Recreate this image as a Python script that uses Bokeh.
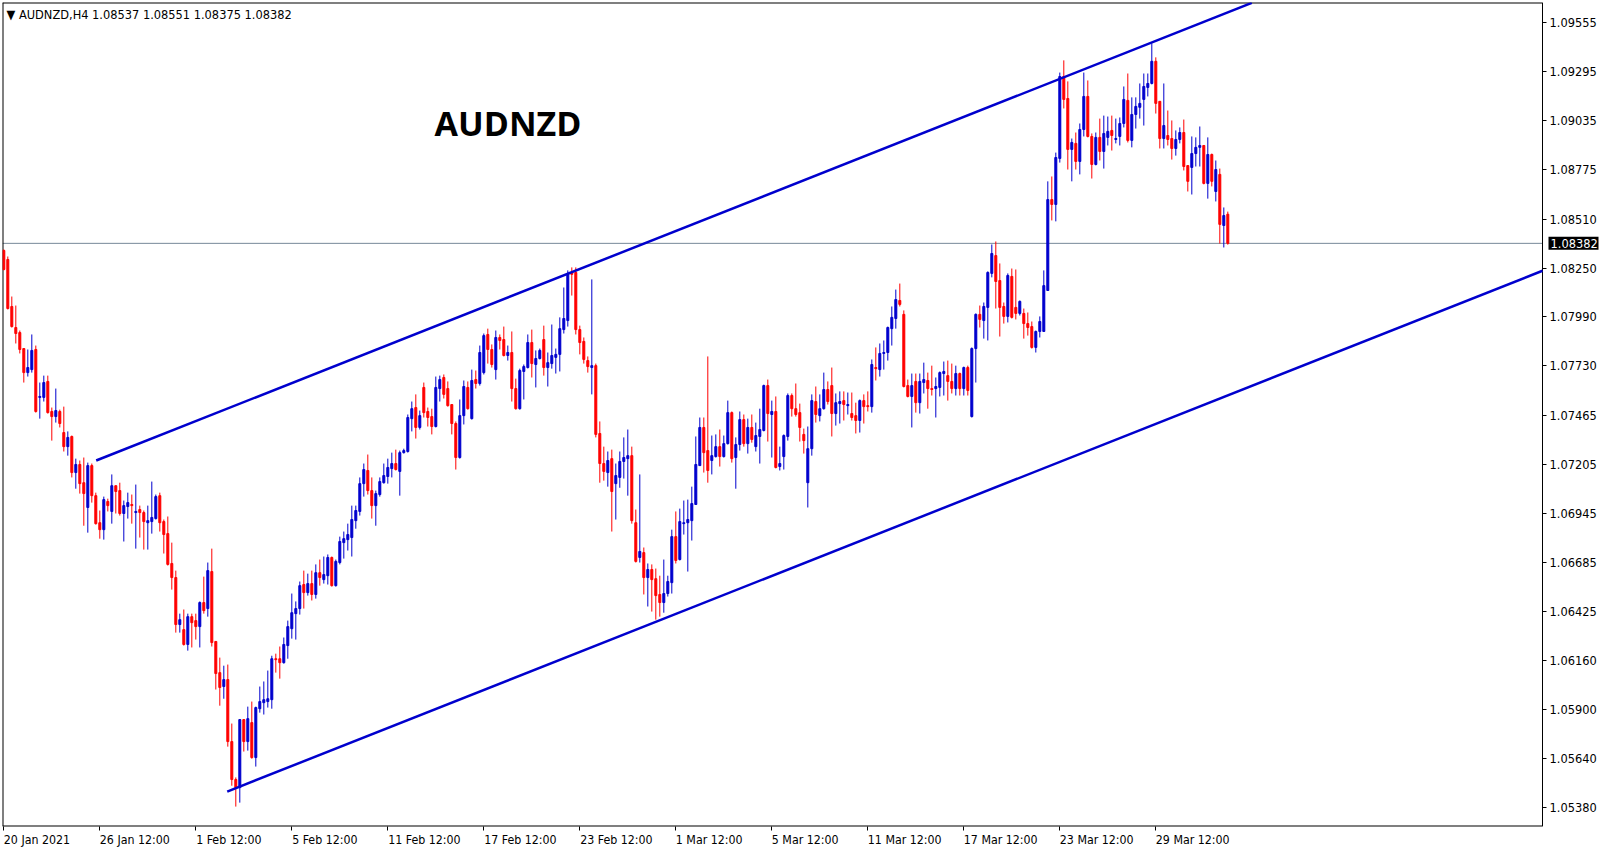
from bokeh.plotting import figure
from bokeh.models import (ColumnDataSource, FixedTicker, PrintfTickFormatter,
                          Label, Range1d, LinearAxis)
from bokeh.embed import file_html
from bokeh.resources import INLINE

symbol = "AUDNZD"
timeframe = "H4"

opens = [1.08344, 1.08296, 1.08046, 1.07934, 1.07907, 1.07822, 1.07694, 1.07710, 1.07817, 1.07562,
         1.07562, 1.07647, 1.07487, 1.07460, 1.07487, 1.07375, 1.07300, 1.07354, 1.07162, 1.07205,
         1.07108, 1.06976, 1.07199, 1.07039, 1.06895, 1.06858, 1.07008, 1.06955, 1.07092, 1.07066,
         1.06944, 1.06981, 1.06992, 1.06949, 1.06965, 1.06949, 1.06895, 1.06901, 1.06917, 1.07039,
         1.06901, 1.06837, 1.06678, 1.06603, 1.06353, 1.06326, 1.06247, 1.06395, 1.06374, 1.06342,
         1.06470, 1.06438, 1.06635, 1.06263, 1.06097, 1.06023, 1.06060, 1.05730, 1.05528, 1.05485,
         1.05847, 1.05730, 1.05831, 1.05645, 1.05905, 1.05937, 1.05943, 1.05953, 1.06171, 1.06171,
         1.06150, 1.06241, 1.06331, 1.06411, 1.06438, 1.06566, 1.06523, 1.06571, 1.06513, 1.06629,
         1.06592, 1.06613, 1.06710, 1.06560, 1.06683, 1.06789, 1.06805, 1.06816, 1.06906, 1.06955,
         1.07103, 1.07173, 1.07066, 1.06986, 1.07045, 1.07108, 1.07141, 1.07183, 1.07210, 1.07168,
         1.07268, 1.07274, 1.07449, 1.07508, 1.07402, 1.07615, 1.07487, 1.07460, 1.07407, 1.07609,
         1.07668, 1.07609, 1.07524, 1.07423, 1.07242, 1.07465, 1.07615, 1.07449, 1.07657, 1.07636,
         1.07694, 1.07897, 1.07817, 1.07710, 1.07881, 1.07870, 1.07785, 1.07801, 1.07609, 1.07502,
         1.07700, 1.07721, 1.07854, 1.07737, 1.07769, 1.07870, 1.07721, 1.07742, 1.07775, 1.07791,
         1.07923, 1.07971, 1.08227, 1.08227, 1.07923, 1.07860, 1.07758, 1.07721, 1.07731, 1.07370,
         1.07210, 1.07162, 1.07236, 1.07103, 1.07136, 1.07221, 1.07236, 1.07252, 1.06895, 1.06710,
         1.06736, 1.06603, 1.06646, 1.06597, 1.06513, 1.06470, 1.06518, 1.06576, 1.06821, 1.06699,
         1.06890, 1.06895, 1.06906, 1.06992, 1.07199, 1.07402, 1.07279, 1.07226, 1.07247, 1.07300,
         1.07247, 1.07316, 1.07481, 1.07242, 1.07311, 1.07444, 1.07316, 1.07402, 1.07300, 1.07354,
         1.07386, 1.07625, 1.07471, 1.07487, 1.07194, 1.07247, 1.07354, 1.07572, 1.07502, 1.07481,
         1.07365, 1.07108, 1.07289, 1.07540, 1.07465, 1.07502, 1.07604, 1.07625, 1.07476, 1.07529,
         1.07545, 1.07518, 1.07476, 1.07465, 1.07439, 1.07545, 1.07518, 1.07513, 1.07721, 1.07710,
         1.07796, 1.07801, 1.07928, 1.07982, 1.08078, 1.08004, 1.07625, 1.07567, 1.07647, 1.07534,
         1.07641, 1.07652, 1.07609, 1.07609, 1.07615, 1.07689, 1.07678, 1.07647, 1.07609, 1.07689,
         1.07609, 1.07721, 1.07460, 1.07822, 1.08004, 1.07971, 1.08041, 1.08222, 1.08317, 1.08184,
         1.08046, 1.07993, 1.08206, 1.08041, 1.08009, 1.08009, 1.07955, 1.07939, 1.07828, 1.07913,
         1.07913, 1.08131, 1.08615, 1.08589, 1.08834, 1.09270, 1.09153, 1.08882, 1.08914, 1.08818,
         1.08988, 1.09164, 1.08951, 1.08802, 1.08946, 1.08871, 1.08946, 1.08983, 1.08935, 1.08951,
         1.09020, 1.09143, 1.08930, 1.09068, 1.09106, 1.09148, 1.09212, 1.09233, 1.09351, 1.09138,
         1.08940, 1.08956, 1.08940, 1.08887, 1.08935, 1.08972, 1.08796, 1.08786, 1.08860, 1.08893,
         1.08903, 1.08701, 1.08855, 1.08658, 1.08749, 1.08477, 1.08537]

highs = [1.08350, 1.08312, 1.08099, 1.08051, 1.07918, 1.07822, 1.07817, 1.07897, 1.07838, 1.07641,
         1.07678, 1.07678, 1.07508, 1.07609, 1.07497, 1.07513, 1.07381, 1.07359, 1.07236, 1.07226,
         1.07242, 1.07215, 1.07210, 1.07055, 1.06960, 1.07034, 1.07023, 1.07152, 1.07092, 1.07108,
         1.07013, 1.07055, 1.07045, 1.07098, 1.06986, 1.06960, 1.06986, 1.07114, 1.07045, 1.07055,
         1.06912, 1.06928, 1.06789, 1.06640, 1.06411, 1.06433, 1.06411, 1.06411, 1.06411, 1.06476,
         1.06608, 1.06683, 1.06757, 1.06263, 1.06177, 1.06134, 1.06140, 1.05826, 1.05539, 1.05850,
         1.05850, 1.05916, 1.05943, 1.05916, 1.06023, 1.06050, 1.06108, 1.06187, 1.06198, 1.06236,
         1.06284, 1.06374, 1.06518, 1.06476, 1.06582, 1.06640, 1.06624, 1.06640, 1.06673, 1.06699,
         1.06715, 1.06726, 1.06715, 1.06699, 1.06821, 1.06848, 1.06890, 1.06986, 1.06986, 1.07136,
         1.07210, 1.07258, 1.07136, 1.07066, 1.07136, 1.07210, 1.07236, 1.07268, 1.07284, 1.07279,
         1.07289, 1.07471, 1.07540, 1.07578, 1.07492, 1.07641, 1.07508, 1.07502, 1.07673, 1.07678,
         1.07684, 1.07647, 1.07524, 1.07434, 1.07551, 1.07652, 1.07647, 1.07710, 1.07705, 1.07838,
         1.07902, 1.07928, 1.07844, 1.07918, 1.07897, 1.07939, 1.07838, 1.07913, 1.07662, 1.07715,
         1.07737, 1.07897, 1.07923, 1.07812, 1.07822, 1.07944, 1.07801, 1.07950, 1.07822, 1.07988,
         1.08147, 1.08238, 1.08254, 1.08254, 1.07944, 1.07881, 1.07780, 1.08190, 1.07742, 1.07434,
         1.07300, 1.07274, 1.07284, 1.07210, 1.07274, 1.07349, 1.07391, 1.07300, 1.06965, 1.07152,
         1.06763, 1.06678, 1.06673, 1.06651, 1.06613, 1.06699, 1.06613, 1.06858, 1.06955, 1.06970,
         1.07013, 1.07018, 1.07087, 1.07354, 1.07455, 1.07455, 1.07780, 1.07359, 1.07365, 1.07391,
         1.07359, 1.07545, 1.07487, 1.07349, 1.07487, 1.07471, 1.07449, 1.07471, 1.07428, 1.07502,
         1.07630, 1.07657, 1.07545, 1.07567, 1.07300, 1.07365, 1.07583, 1.07583, 1.07636, 1.07529,
         1.07396, 1.07407, 1.07578, 1.07620, 1.07578, 1.07694, 1.07647, 1.07721, 1.07583, 1.07594,
         1.07594, 1.07588, 1.07588, 1.07534, 1.07551, 1.07578, 1.07594, 1.07764, 1.07828, 1.07849,
         1.07865, 1.07939, 1.08046, 1.08136, 1.08168, 1.08025, 1.07657, 1.07689, 1.07689, 1.07689,
         1.07747, 1.07694, 1.07731, 1.07668, 1.07700, 1.07753, 1.07758, 1.07742, 1.07731, 1.07694,
         1.07726, 1.07731, 1.07828, 1.08009, 1.08051, 1.08067, 1.08233, 1.08376, 1.08392, 1.08275,
         1.08067, 1.08222, 1.08248, 1.08243, 1.08078, 1.08035, 1.08014, 1.07966, 1.07918, 1.07993,
         1.08238, 1.08712, 1.08738, 1.08865, 1.09291, 1.09356, 1.09244, 1.08940, 1.08972, 1.09020,
         1.09291, 1.09249, 1.08967, 1.08972, 1.09046, 1.09062, 1.09057, 1.09062, 1.09046, 1.09052,
         1.09217, 1.09286, 1.09159, 1.09159, 1.09233, 1.09286, 1.09286, 1.09446, 1.09372, 1.09138,
         1.09233, 1.09089, 1.09036, 1.08983, 1.08999, 1.09041, 1.08796, 1.08951, 1.08946, 1.09004,
         1.08903, 1.08946, 1.08860, 1.08823, 1.08780, 1.08573, 1.08551]

lows = [1.08238, 1.08030, 1.07934, 1.07849, 1.07796, 1.07641, 1.07673, 1.07694, 1.07481, 1.07449,
        1.07540, 1.07476, 1.07332, 1.07428, 1.07402, 1.07274, 1.07252, 1.07136, 1.07076, 1.07050,
        1.06879, 1.06842, 1.07002, 1.06885, 1.06810, 1.06805, 1.06955, 1.06890, 1.06944, 1.06933,
        1.06795, 1.06917, 1.06890, 1.06757, 1.06816, 1.06752, 1.06752, 1.06837, 1.06912, 1.06848,
        1.06731, 1.06667, 1.06539, 1.06310, 1.06310, 1.06241, 1.06214, 1.06231, 1.06273, 1.06231,
        1.06411, 1.06395, 1.06236, 1.06007, 1.05921, 1.05958, 1.05703, 1.05495, 1.05384, 1.05405,
        1.05677, 1.05682, 1.05639, 1.05597, 1.05884, 1.05874, 1.05911, 1.05905, 1.06097, 1.06065,
        1.06145, 1.06171, 1.06278, 1.06273, 1.06406, 1.06438, 1.06507, 1.06481, 1.06491, 1.06560,
        1.06571, 1.06566, 1.06555, 1.06555, 1.06673, 1.06704, 1.06747, 1.06715, 1.06863, 1.06933,
        1.07034, 1.07045, 1.06917, 1.06879, 1.07034, 1.07103, 1.07103, 1.07136, 1.07173, 1.07039,
        1.07263, 1.07268, 1.07381, 1.07343, 1.07391, 1.07455, 1.07407, 1.07365, 1.07402, 1.07540,
        1.07556, 1.07513, 1.07365, 1.07178, 1.07236, 1.07418, 1.07497, 1.07444, 1.07609, 1.07625,
        1.07684, 1.07742, 1.07721, 1.07657, 1.07817, 1.07780, 1.07758, 1.07540, 1.07497, 1.07497,
        1.07551, 1.07716, 1.07668, 1.07615, 1.07764, 1.07678, 1.07620, 1.07715, 1.07689, 1.07700,
        1.07902, 1.07939, 1.08104, 1.07897, 1.07791, 1.07742, 1.07694, 1.07578, 1.07349, 1.07108,
        1.07119, 1.07087, 1.06848, 1.06912, 1.07081, 1.07130, 1.07039, 1.06890, 1.06683, 1.06683,
        1.06513, 1.06449, 1.06422, 1.06379, 1.06395, 1.06416, 1.06502, 1.06518, 1.06678, 1.06694,
        1.06832, 1.06635, 1.06800, 1.06992, 1.07199, 1.07162, 1.07108, 1.07152, 1.07242, 1.07194,
        1.07242, 1.07311, 1.07215, 1.07076, 1.07279, 1.07300, 1.07263, 1.07321, 1.07274, 1.07210,
        1.07381, 1.07327, 1.07242, 1.07184, 1.07173, 1.07178, 1.07332, 1.07460, 1.07460, 1.07327,
        1.07263, 1.06976, 1.07252, 1.07428, 1.07434, 1.07497, 1.07524, 1.07354, 1.07412, 1.07423,
        1.07439, 1.07471, 1.07439, 1.07370, 1.07375, 1.07423, 1.07487, 1.07481, 1.07652, 1.07673,
        1.07710, 1.07758, 1.07838, 1.07928, 1.08046, 1.07615, 1.07562, 1.07402, 1.07481, 1.07476,
        1.07583, 1.07502, 1.07572, 1.07455, 1.07567, 1.07572, 1.07545, 1.07583, 1.07572, 1.07572,
        1.07572, 1.07572, 1.07455, 1.07641, 1.07934, 1.07875, 1.07865, 1.08201, 1.08035, 1.07886,
        1.07955, 1.07961, 1.07982, 1.07977, 1.07998, 1.07875, 1.07891, 1.07822, 1.07801, 1.07881,
        1.07913, 1.08131, 1.08504, 1.08499, 1.08812, 1.09100, 1.08775, 1.08712, 1.08775, 1.08749,
        1.08951, 1.08946, 1.08727, 1.08797, 1.08823, 1.08780, 1.08903, 1.08876, 1.08914, 1.08903,
        1.08999, 1.08919, 1.08893, 1.08993, 1.09046, 1.09009, 1.09164, 1.09228, 1.09073, 1.08887,
        1.08887, 1.08903, 1.08828, 1.08849, 1.08914, 1.08770, 1.08658, 1.08642, 1.08791, 1.08791,
        1.08696, 1.08620, 1.08685, 1.08605, 1.08381, 1.08360, 1.08375]

closes = [1.08243, 1.08035, 1.07939, 1.07902, 1.07817, 1.07694, 1.07721, 1.07812, 1.07487, 1.07567,
          1.07641, 1.07481, 1.07460, 1.07492, 1.07423, 1.07300, 1.07349, 1.07162, 1.07205, 1.07103,
          1.07050, 1.07199, 1.07039, 1.06890, 1.06858, 1.07018, 1.06986, 1.07092, 1.07061, 1.06944,
          1.06986, 1.07002, 1.06986, 1.06955, 1.06949, 1.06901, 1.06906, 1.06923, 1.07034, 1.06895,
          1.06832, 1.06673, 1.06603, 1.06353, 1.06379, 1.06247, 1.06395, 1.06363, 1.06342, 1.06470,
          1.06427, 1.06640, 1.06257, 1.06092, 1.06018, 1.06060, 1.05730, 1.05528, 1.05485, 1.05847,
          1.05730, 1.05852, 1.05645, 1.05911, 1.05943, 1.05953, 1.05958, 1.06171, 1.06166, 1.06150,
          1.06247, 1.06342, 1.06416, 1.06438, 1.06560, 1.06523, 1.06571, 1.06513, 1.06629, 1.06603,
          1.06619, 1.06710, 1.06560, 1.06689, 1.06795, 1.06810, 1.06832, 1.06912, 1.06960, 1.07103,
          1.07178, 1.07066, 1.06986, 1.07050, 1.07114, 1.07146, 1.07189, 1.07210, 1.07178, 1.07268,
          1.07279, 1.07455, 1.07502, 1.07402, 1.07465, 1.07481, 1.07455, 1.07407, 1.07615, 1.07657,
          1.07578, 1.07518, 1.07423, 1.07242, 1.07465, 1.07620, 1.07502, 1.07652, 1.07636, 1.07801,
          1.07891, 1.07817, 1.07737, 1.07881, 1.07865, 1.07785, 1.07801, 1.07609, 1.07502, 1.07705,
          1.07726, 1.07854, 1.07742, 1.07769, 1.07812, 1.07721, 1.07747, 1.07785, 1.07791, 1.07928,
          1.07982, 1.08222, 1.08217, 1.07923, 1.07854, 1.07764, 1.07726, 1.07731, 1.07365, 1.07210,
          1.07168, 1.07226, 1.07061, 1.07146, 1.07221, 1.07242, 1.07252, 1.06906, 1.06689, 1.06742,
          1.06603, 1.06646, 1.06592, 1.06507, 1.06470, 1.06518, 1.06582, 1.06821, 1.06694, 1.06901,
          1.06895, 1.06912, 1.06997, 1.07205, 1.07402, 1.07268, 1.07173, 1.07252, 1.07300, 1.07247,
          1.07316, 1.07481, 1.07236, 1.07311, 1.07444, 1.07316, 1.07402, 1.07338, 1.07359, 1.07391,
          1.07625, 1.07476, 1.07487, 1.07189, 1.07210, 1.07359, 1.07572, 1.07502, 1.07471, 1.07402,
          1.07332, 1.07289, 1.07545, 1.07471, 1.07502, 1.07604, 1.07540, 1.07476, 1.07534, 1.07540,
          1.07524, 1.07524, 1.07455, 1.07439, 1.07545, 1.07513, 1.07513, 1.07737, 1.07715, 1.07796,
          1.07801, 1.07934, 1.07988, 1.08083, 1.08057, 1.07620, 1.07567, 1.07625, 1.07534, 1.07647,
          1.07657, 1.07609, 1.07604, 1.07620, 1.07694, 1.07700, 1.07647, 1.07609, 1.07689, 1.07609,
          1.07721, 1.07599, 1.07822, 1.08004, 1.07977, 1.08046, 1.08227, 1.08328, 1.08179, 1.08041,
          1.07993, 1.08211, 1.07988, 1.08009, 1.08073, 1.07955, 1.07934, 1.07828, 1.07913, 1.07966,
          1.08157, 1.08615, 1.08589, 1.08839, 1.09270, 1.09148, 1.08882, 1.08919, 1.08818, 1.08988,
          1.09164, 1.08951, 1.08802, 1.08946, 1.08871, 1.08967, 1.08978, 1.08956, 1.08940, 1.09020,
          1.09148, 1.08930, 1.09068, 1.09111, 1.09127, 1.09217, 1.09233, 1.09351, 1.09127, 1.08940,
          1.09009, 1.08935, 1.08887, 1.08935, 1.08972, 1.08791, 1.08712, 1.08860, 1.08893, 1.08903,
          1.08701, 1.08855, 1.08712, 1.08775, 1.08483, 1.08530, 1.08382]

# x axis: bar index of each date label
x_tick_bars = [0, 24, 48, 72, 96, 120, 144, 168, 192, 216, 240, 264, 288]
x_tick_labels = ["20 Jan 2021", "26 Jan 12:00", "1 Feb 12:00", "5 Feb 12:00", "11 Feb 12:00",
                 "17 Feb 12:00", "23 Feb 12:00", "1 Mar 12:00", "5 Mar 12:00", "11 Mar 12:00",
                 "17 Mar 12:00", "23 Mar 12:00", "29 Mar 12:00"]
y_ticks = [1.09555, 1.09295, 1.09035, 1.08775, 1.08510, 1.08250, 1.07990, 1.07730, 1.07465,
           1.07205, 1.06945, 1.06685, 1.06425, 1.06160, 1.05900, 1.05640, 1.05380]

# channel trend lines (bar index, price)
upper_line_bars = [23.1, 312.0]
upper_line_prices = [1.07226, 1.09662]
lower_line_bars = [55.85, 384.675]
lower_line_prices = [1.05464, 1.08236]

BULL = "#0000CD"
BEAR = "#FF0000"
FONT = "DejaVu Sans Condensed"
XLAB_SIZE = 12.3
PX_PER_BAR = 4.0

# chart area (in bars / price) and the price-scale strip to its right
X0, X_CHART_END, X_END = -0.325, 384.675, 398.675
Y0, Y1 = 1.05278, 1.09664
SCALE_PX = 56  # width of the price scale strip, pixels

n = len(closes)
xs = list(range(n))
colors = [BULL if c >= o else BEAR for o, c in zip(opens, closes)]
src = ColumnDataSource(dict(
    x=xs, open=opens, high=highs, low=lows, close=closes,
    top=[max(o, c) for o, c in zip(opens, closes)],
    bottom=[min(o, c) for o, c in zip(opens, closes)],
    color=colors,
))

p = figure(frame_width=1596, frame_height=824,
           x_range=Range1d(X0, X_END), y_range=Range1d(Y0, Y1),
           y_axis_location="right", output_backend="svg", toolbar_location=None,
           min_border_left=2, min_border_top=2, min_border_right=0, min_border_bottom=0,
           background_fill_color="white", border_fill_color="white")

p.grid.visible = False
p.outline_line_color = None

# chart frame: left, top, bottom edges and the price-scale line
p.line([X0, X0], [Y0, Y1], line_color="black", line_width=2)
p.line([X0, X_CHART_END], [Y1, Y1], line_color="black", line_width=2)
p.line([X0, X_CHART_END], [Y0, Y0], line_color="black", line_width=2)
p.line([X_CHART_END, X_CHART_END], [Y0, Y1], line_color="black", line_width=1)

# current price line (behind candles)
p.segment(x0=[X0], y0=[closes[-1]], x1=[X_CHART_END], y1=[closes[-1]],
          line_color="#778899", line_width=1, level="underlay")

p.segment(x0="x", y0="low", x1="x", y1="high", color="color", line_width=1, source=src)
p.vbar(x="x", width=0.5, top="top", bottom="bottom", fill_color="color",
       line_color="color", line_width=1, source=src)

p.line(upper_line_bars, upper_line_prices, line_color=BULL, line_width=2.5)
p.line(lower_line_bars, lower_line_prices, line_color=BULL, line_width=2.5)

# x axis 1: tick marks only
xa = p.xaxis[0]
xa.ticker = FixedTicker(ticks=x_tick_bars)
xa.major_label_overrides = {b: "" for b in x_tick_bars}
xa.major_label_text_font_size = "1px"
xa.major_label_standoff = 0
xa.axis_line_color = None
xa.major_tick_in = 0
xa.major_tick_out = 4
xa.major_tick_line_color = "black"
xa.minor_tick_line_color = None

# x axis 2: the date labels, placed so that each starts at its tick (MT4 style)
CHAR_EM = {" ": 0.286, ":": 0.303, "J": 0.265, "a": 0.551, "n": 0.570, "F": 0.517,
           "e": 0.553, "b": 0.571, "M": 0.776, "r": 0.370}


def text_px(s, size):
    return sum(0.572 if ch.isdigit() else CHAR_EM.get(ch, 0.55) for ch in s) * size


label_pos = [b + text_px(t, XLAB_SIZE) / 2.0 / PX_PER_BAR for b, t in zip(x_tick_bars, x_tick_labels)]
xl = LinearAxis(ticker=FixedTicker(ticks=label_pos),
                major_label_overrides={lp: t for lp, t in zip(label_pos, x_tick_labels)})
xl.axis_line_color = None
xl.major_tick_in = 0
xl.major_tick_out = 0
xl.minor_tick_line_color = None
xl.major_label_standoff = 2
xl.major_label_text_font = FONT
xl.major_label_text_font_size = "%.1fpx" % XLAB_SIZE
xl.major_label_text_color = "black"
p.add_layout(xl, "below")

# price axis: drawn over the price-scale strip, ticks just right of the chart edge
ya = p.yaxis[0]
ya.ticker = FixedTicker(ticks=y_ticks)
ya.formatter = PrintfTickFormatter(format="%.5f")
ya.axis_line_color = None
ya.major_tick_in = SCALE_PX
ya.major_tick_out = -(SCALE_PX - 4)
ya.minor_tick_in = 0
ya.minor_tick_out = 0
ya.major_tick_line_color = "black"
ya.minor_tick_line_color = None
ya.major_label_text_font = FONT
ya.major_label_text_font_size = "12.7px"
ya.major_label_text_color = "black"
ya.major_label_standoff = -(SCALE_PX - 7)

# header text
header = "\u25BC {},{}  {:.5f} {:.5f} {:.5f} {:.5f}".format(
    symbol, timeframe, opens[-1], highs[-1], lows[-1], closes[-1])
p.add_layout(Label(x=X0, y=Y1, x_offset=4, y_offset=-4, text=header,
                   text_baseline="top", text_align="left", text_font=FONT,
                   text_font_size="12.7px", text_color="black"))

# big symbol name
p.add_layout(Label(x=107.7, y=1.09025, text=symbol, text_baseline="middle",
                   text_align="left", text_font="Open Sans", text_font_style="bold",
                   text_font_size="34px", text_color="black"))

# current price box on the price scale
box_kw = dict(x=X_CHART_END, y=closes[-1], x_offset=6, text="{:.5f}".format(closes[-1]),
              text_baseline="middle", text_align="left", text_font=FONT,
              text_font_size="12.7px", text_color="white",
              background_fill_color="black")
try:
    price_box = Label(padding=2, **box_kw)
except Exception:
    price_box = Label(**box_kw)
p.add_layout(price_box)

open("out.html", "w").write(file_html(p, INLINE))
